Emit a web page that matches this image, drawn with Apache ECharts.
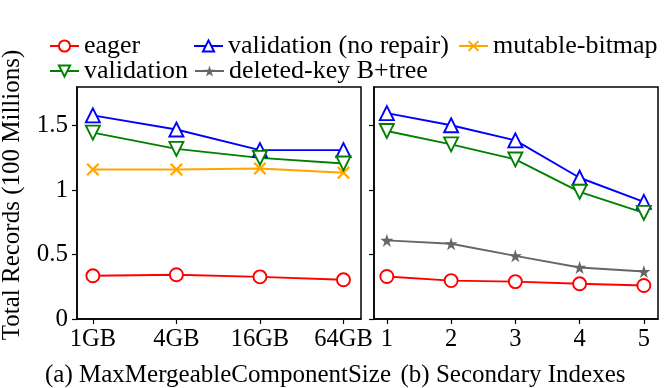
<!DOCTYPE html>
<html>
<head>
<meta charset="utf-8">
<script src="https://cdn.jsdelivr.net/npm/echarts@6/dist/echarts.min.js"></script>
<style>
  html, body { margin: 0; padding: 0; background: #fff; }
  #chart { width: 665px; height: 388px; }
</style>
</head>
<body>
<div id="chart"></div>
<script>
// (a) MaxMergeableComponentSize
const sizeLabels = ["1GB", "4GB", "16GB", "64GB"];
const sizeEager = [0.335, 0.343, 0.327, 0.304];
const sizeValidationNoRepair = [1.58, 1.47, 1.31, 1.31];
const sizeValidation = [1.446, 1.32, 1.25, 1.207];
const sizeMutableBitmap = [1.16, 1.16, 1.168, 1.135];

// (b) Secondary Indexes
const indexLabels = ["1", "2", "3", "4", "5"];
const idxEager = [0.33, 0.298, 0.29, 0.273, 0.26];
const idxValidationNoRepair = [1.597, 1.503, 1.386, 1.096, 0.909];
const idxValidation = [1.459, 1.355, 1.238, 0.986, 0.823];
const idxDeletedKey = [0.61, 0.584, 0.49, 0.40, 0.368];

const yTicks = [0, 0.5, 1, 1.5];

const FONT = "Liberation Serif";
const xSymbol = "path://M0,1.2L1.2,0L5,3.8L8.8,0L10,1.2L6.2,5L10,8.8L8.8,10L5,6.2L1.2,10L0,8.8L3.8,5Z";
const starSymbol = "path://M5,0L6.2,3.6L10,3.6L6.9,5.9L8.1,9.5L5,7.3L1.9,9.5L3.1,5.9L0,3.6L3.8,3.6Z";

const styles = {
  "eager": { color: "#ff0000", symbol: "circle", size: 13, hollow: true },
  "validation (no repair)": { color: "#0000ff", symbol: "triangle", size: 14, hollow: true },
  "mutable-bitmap": { color: "#ffa500", symbol: xSymbol, size: 13, hollow: false },
  "validation": { color: "#008000", symbol: "triangle", size: 14, hollow: true, rotate: 180 },
  "deleted-key B+tree": { color: "#666666", symbol: starSymbol, size: 13, hollow: false },
};

function makeSeries(name, values, gridIdx, xOffset) {
  const st = styles[name];
  return {
    name,
    type: "line",
    xAxisIndex: gridIdx,
    yAxisIndex: gridIdx,
    data: values.map((v, i) => [i + xOffset, v]),
    symbol: st.symbol,
    symbolSize: st.size,
    symbolRotate: st.rotate || 0,
    showSymbol: true,
    lineStyle: { color: st.color, width: 1.9 },
    itemStyle: st.hollow
      ? { color: "#ffffff", borderColor: st.color, borderWidth: 1.9, opacity: 1 }
      : { color: st.color, borderColor: st.color, borderWidth: 0 },
    z: 3,
    animation: false,
  };
}

const chart = echarts.init(document.getElementById("chart"));

function yAxis(gridIdx, showLabels) {
  return {
    type: "value",
    gridIndex: gridIdx,
    min: 0,
    max: 1.8,
    axisLine: { show: true, onZero: false, lineStyle: { color: "#000", width: 1.5 } },
    axisTick: { show: true, length: 5, lineStyle: { color: "#000", width: 1.2 }, customValues: yTicks },
    axisLabel: {
      show: showLabels,
      customValues: yTicks,
      color: "#000",
      fontFamily: FONT,
      fontSize: 25,
      margin: 9,
    },
    splitLine: { show: false },
  };
}

function xAxis(gridIdx, labels, min, max, offset) {
  const vals = labels.map((_, i) => i + offset);
  return {
    type: "value",
    gridIndex: gridIdx,
    min,
    max,
    axisLine: { show: true, onZero: false, lineStyle: { color: "#000", width: 1.5 } },
    axisTick: { show: true, length: 5, lineStyle: { color: "#000", width: 1.2 }, customValues: vals },
    axisLabel: {
      customValues: vals,
      formatter: (v) => labels[Math.round(v - offset)] || "",
      color: "#000",
      fontFamily: FONT,
      fontSize: 24.5,
      margin: 8,
    },
    splitLine: { show: false },
  };
}

function legendItem(name, left, top) {
  return {
    data: [name],
    left,
    top,
    itemWidth: 29,
    itemHeight: 14,
    itemGap: 0,
    padding: 0,
    selectedMode: false,
    textStyle: { fontFamily: FONT, fontSize: 26, color: "#000" },
  };
}

chart.setOption({
  animation: false,
  textStyle: { fontFamily: FONT },
  grid: [
    { left: 77, top: 87, width: 284, height: 232, show: true, borderColor: "#000", borderWidth: 1.5, backgroundColor: "transparent" },
    { left: 374, top: 87, width: 284, height: 232, show: true, borderColor: "#000", borderWidth: 1.5, backgroundColor: "transparent" },
  ],
  xAxis: [
    xAxis(0, sizeLabels, -0.19, 3.21, 0),
    xAxis(1, indexLabels, 0.8, 5.22, 1),
  ],
  yAxis: [yAxis(0, true), yAxis(1, false)],
  legend: [
    legendItem("eager", 49, 33),
    legendItem("validation (no repair)", 193, 33),
    legendItem("mutable-bitmap", 458, 33),
    legendItem("validation", 49, 58),
    legendItem("deleted-key B+tree", 194, 58),
  ],
  graphic: [
    {
      type: "text",
      x: 12,
      y: 195,
      rotation: Math.PI / 2,
      style: {
        text: "Total Records (100 Millions)",
        fontFamily: FONT,
        fontSize: 25,
        fill: "#000",
        align: "center",
        verticalAlign: "middle",
      },
    },
    {
      type: "text",
      x: 218,
      y: 375,
      style: { text: "(a) MaxMergeableComponentSize", fontFamily: FONT, fontSize: 25, fill: "#000", align: "center", verticalAlign: "middle" },
    },
    {
      type: "text",
      x: 513,
      y: 375,
      style: { text: "(b) Secondary Indexes", fontFamily: FONT, fontSize: 25, fill: "#000", align: "center", verticalAlign: "middle" },
    },
  ],
  series: [
    makeSeries("eager", sizeEager, 0, 0),
    makeSeries("validation (no repair)", sizeValidationNoRepair, 0, 0),
    makeSeries("mutable-bitmap", sizeMutableBitmap, 0, 0),
    makeSeries("validation", sizeValidation, 0, 0),
    makeSeries("eager", idxEager, 1, 1),
    makeSeries("validation (no repair)", idxValidationNoRepair, 1, 1),
    makeSeries("validation", idxValidation, 1, 1),
    makeSeries("deleted-key B+tree", idxDeletedKey, 1, 1),
  ],
});
</script>
</body>
</html>
